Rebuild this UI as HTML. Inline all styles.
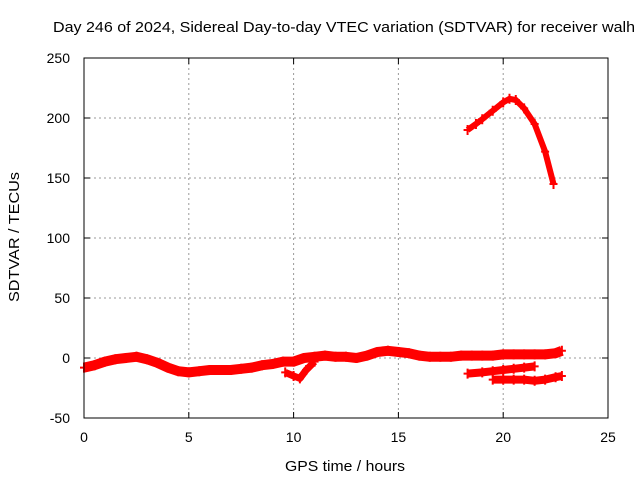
<!DOCTYPE html>
<html><head><meta charset="utf-8"><style>
body{margin:0;background:#fff}
svg{display:block;font-family:"Liberation Sans",sans-serif}
</style></head><body>
<svg id="chart" width="640" height="480">
<text x="53" y="32" font-size="15" textLength="582" lengthAdjust="spacingAndGlyphs">Day 246 of 2024, Sidereal Day-to-day VTEC variation (SDTVAR) for receiver walh</text>
<text x="285" y="471" font-size="15" textLength="120" lengthAdjust="spacingAndGlyphs">GPS time / hours</text>
<text transform="translate(19,302) rotate(-90)" font-size="15" textLength="130" lengthAdjust="spacingAndGlyphs">SDTVAR / TECUs</text>
<g id="grid"></g><g id="series"></g>
<rect x="84" y="58" width="524" height="360" fill="none" stroke="#000" stroke-width="1"/>
</svg>
<script>
const xTicks=[0,5,10,15,20,25];
const yTicks=[-50,0,50,100,150,200,250];
const mainX=[0,0.5,1,1.5,2,2.5,3,3.5,4,4.5,5,5.5,6,6.5,7,7.5,8,8.5,9,9.5,10,10.5,11,11.5,12,12.5,13,13.5,14,14.5,15,15.5,16,16.5,17,17.5,18,18.5,19,19.5,20,20.5,21,21.5,22,22.5,22.8];
const mainY=[-8,-6,-3,-1,0,1,-1,-4,-8,-11,-12,-11,-10,-10,-10,-9,-8,-6,-5,-3,-3,0,1,2,1,1,0,2,5,6,5,4,2,1,1,1,2,2,2,2,3,3,3,3,3,4,6];
const dipX=[9.6,10,10.3,10.6,11];
const dipY=[-12,-15,-17,-10,-3];
const low1X=[18.3,19,19.5,20,20.5,21,21.5];
const low1Y=[-13,-12,-11,-10,-9,-8,-7];
const low2X=[19.5,20,20.5,21,21.5,22,22.5,22.8];
const low2Y=[-18,-18,-18,-18,-19,-18,-16,-15];
const topX=[18.3,18.7,19,19.5,20,20.3,20.6,21,21.5,22,22.4];
const topY=[190,195,199,206,213,216,215,208,195,172,145];
const NS='http://www.w3.org/2000/svg';
const sx=v=>84+v*524/25, sy=v=>358-v*1.2;
const grid=document.getElementById('grid'), ser=document.getElementById('series'), svg=document.getElementById('chart');
function mk(t,a,p){const e=document.createElementNS(NS,t);for(const k in a)e.setAttribute(k,a[k]);p.appendChild(e);return e;}
xTicks.forEach(t=>{const x=sx(t);
 if(t>0&&t<25){const l=mk('line',{x1:x,x2:x,y1:58,y2:418,stroke:'#999','stroke-dasharray':'2,3'},grid);}
 mk('line',{x1:x,x2:x,y1:418,y2:412,stroke:'#000'},grid);mk('line',{x1:x,x2:x,y1:58,y2:64,stroke:'#000'},grid);
 const tx=mk('text',{x:x,y:442,'font-size':14,'text-anchor':'middle'},svg);tx.textContent=t;
 });
yTicks.forEach(t=>{const y=sy(t);
 if(t>-50&&t<250){const l=mk('line',{x1:84,x2:608,y1:y,y2:y,stroke:'#999','stroke-dasharray':'2,3'},grid);}
 mk('line',{x1:84,x2:90,y1:y,y2:y,stroke:'#000'},grid);mk('line',{x1:608,x2:602,y1:y,y2:y,stroke:'#000'},grid);
 const tx=mk('text',{x:70,y:y+5,'font-size':14,'text-anchor':'end'},svg);tx.textContent=t;
 });
function draw(xs,ys,name,w){
 const pts=xs.map((x,i)=>sx(x)+','+sy(ys[i])).join(' ');
 const p=mk('polyline',{points:pts,fill:'none',stroke:'#f00','stroke-width':w,'stroke-linejoin':'round'},ser);
 
 xs.forEach((x,i)=>{const cx=sx(x),cy=sy(ys[i]);
  const m=mk('path',{d:`M${cx-4},${cy}H${cx+4}M${cx},${cy-5}V${cy+5}`,stroke:'#f00','stroke-width':2},ser);
  });
}
draw(mainX,mainY,'main-series',10);
draw(dipX,dipY,'dip-series',7);
draw(low1X,low1Y,'lower-series-1',8);
draw(low2X,low2Y,'lower-series-2',8);
draw(topX,topY,'upper-series',6);
</script>
</body></html>
